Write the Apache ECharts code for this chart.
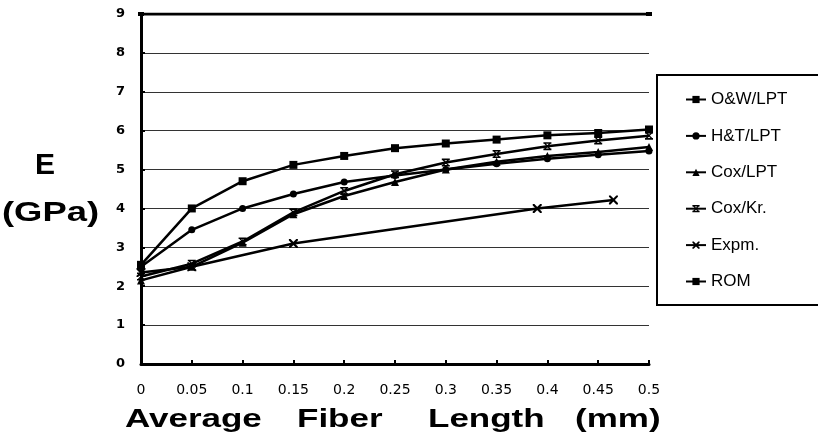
<!DOCTYPE html>
<html>
<head>
<meta charset="utf-8">
<script src="https://cdn.jsdelivr.net/npm/echarts@6/dist/echarts.min.js"></script>
<style>
html,body{margin:0;padding:0;background:#fff;}
#chart{width:818px;height:444px;}
</style>
</head>
<body>
<div id="chart"></div>
<script>
// ---- data ----
const fiberLength = [0, 0.05, 0.1, 0.15, 0.2, 0.25, 0.3, 0.35, 0.4, 0.45, 0.5];
const owLPT  = [2.55, 4.0, 4.7, 5.12, 5.35, 5.55, 5.67, 5.77, 5.88, 5.94, 6.03];
const htLPT  = [2.5, 3.45, 4.0, 4.37, 4.68, 4.85, 5.0, 5.15, 5.28, 5.38, 5.48];
const coxLPT = [2.15, 2.5, 3.12, 3.85, 4.32, 4.68, 5.0, 5.2, 5.35, 5.45, 5.58];
const coxKr  = [2.25, 2.58, 3.15, 3.9, 4.45, 4.88, 5.18, 5.4, 5.6, 5.75, 5.87];
const expmX  = [0, 0.05, 0.15, 0.39, 0.465];
const expmY  = [2.35, 2.5, 3.1, 4.0, 4.22];
const romX   = [0, 0.5];
const romY   = [9, 9];
const seriesNames = ['O&W/LPT', 'H&T/LPT', 'Cox/LPT', 'Cox/Kr.', 'Expm.', 'ROM'];
const yTicks = [0, 1, 2, 3, 4, 5, 6, 7, 8, 9];

const pair = (xs, ys) => xs.map((x, i) => [x, ys[i]]);

const hourglass = 'path://M0,0H10V2H0Z M0,8H10V10H0Z M1,2L3.2,2L9,8L6.8,8Z M6.8,2L9,2L3.2,8L1,8Z';
const cross = 'path://M0,0L1.8,0L10,8.4L10,10L8.2,10L0,1.6Z M8.2,0L10,0L10,1.6L1.8,10L0,10L0,8.4Z';

const chart = echarts.init(document.getElementById('chart'), null, {renderer: 'canvas'});

function lineSeries(name, data, symbol, size) {
  return {
    name: name, type: 'line', data: data,
    symbol: symbol, symbolSize: size, showSymbol: true,
    lineStyle: {color: '#000', width: 2.5},
    itemStyle: {color: '#000', borderWidth: 0},
    z: 3
  };
}

const option = {
  animation: false,
  backgroundColor: '#fff',
  grid: {left: 141, right: 169, top: 14, bottom: 80},
  xAxis: {
    type: 'value', min: 0, max: 0.5, interval: 0.05,
    axisLine: {show: true, onZero: false, lineStyle: {color: '#000', width: 3}},
    axisTick: {show: true, inside: true, length: 4, lineStyle: {color: '#000', width: 2}},
    splitLine: {show: false},
    axisLabel: {
      color: '#000', fontFamily: 'DejaVu Sans', fontSize: 14, margin: 19,
      formatter: v => String(parseFloat(v.toFixed(2)))
    }
  },
  yAxis: {
    type: 'value', min: yTicks[0], max: yTicks[yTicks.length - 1], interval: 1,
    axisLine: {show: true, lineStyle: {color: '#000', width: 3}},
    axisTick: {show: true, inside: true, length: 4, lineStyle: {color: '#000', width: 2}},
    splitLine: {show: true, lineStyle: {color: '#333', width: 1.2}},
    axisLabel: {color: '#000', fontFamily: 'DejaVu Sans', fontWeight: 'bold', fontSize: 13, margin: 16}
  },
  legend: {
    orient: 'vertical', left: 657, top: 75,
    data: seriesNames,
    backgroundColor: '#fff',
    borderColor: '#000', borderWidth: 2, borderRadius: 0,
    padding: [16, 40, 15, 28],
    itemWidth: 20, itemHeight: 9, itemGap: 19.4,
    textStyle: {color: '#000', fontFamily: 'Liberation Sans', fontSize: 17, lineHeight: 17}
  },
  series: [
    lineSeries(seriesNames[0], pair(fiberLength, owLPT), 'rect', 8),
    lineSeries(seriesNames[1], pair(fiberLength, htLPT), 'circle', 7),
    lineSeries(seriesNames[2], pair(fiberLength, coxLPT), 'triangle', 8),
    lineSeries(seriesNames[3], pair(fiberLength, coxKr), hourglass, 8),
    lineSeries(seriesNames[4], pair(expmX, expmY), cross, 9),
    Object.assign(lineSeries(seriesNames[5], pair(romX, romY), 'rect', [6, 4]), {lineStyle: {color: '#000', width: 3}})
  ],
  graphic: [
    {type: 'text', x: 45, y: 166, style: {text: 'E', font: 'bold 30px "Liberation Sans"', fill: '#000', textAlign: 'center', textVerticalAlign: 'middle'}},
    {type: 'text', x: 2, y: 213, scaleX: 1.3, style: {text: '(GPa)', font: 'bold 28px "Liberation Sans"', fill: '#000', textAlign: 'left', textVerticalAlign: 'middle'}},
    {type: 'text', x: 125, y: 420, scaleX: 1.4, style: {text: 'Average', font: 'bold 25px "Liberation Sans"', fill: '#000', textAlign: 'left', textVerticalAlign: 'middle'}},
    {type: 'text', x: 297, y: 420, scaleX: 1.4, style: {text: 'Fiber', font: 'bold 25px "Liberation Sans"', fill: '#000', textAlign: 'left', textVerticalAlign: 'middle'}},
    {type: 'text', x: 428, y: 420, scaleX: 1.4, style: {text: 'Length', font: 'bold 25px "Liberation Sans"', fill: '#000', textAlign: 'left', textVerticalAlign: 'middle'}},
    {type: 'text', x: 575, y: 420, scaleX: 1.4, style: {text: '(mm)', font: 'bold 25px "Liberation Sans"', fill: '#000', textAlign: 'left', textVerticalAlign: 'middle'}}
  ]
};
chart.setOption(option);
</script>
</body>
</html>
